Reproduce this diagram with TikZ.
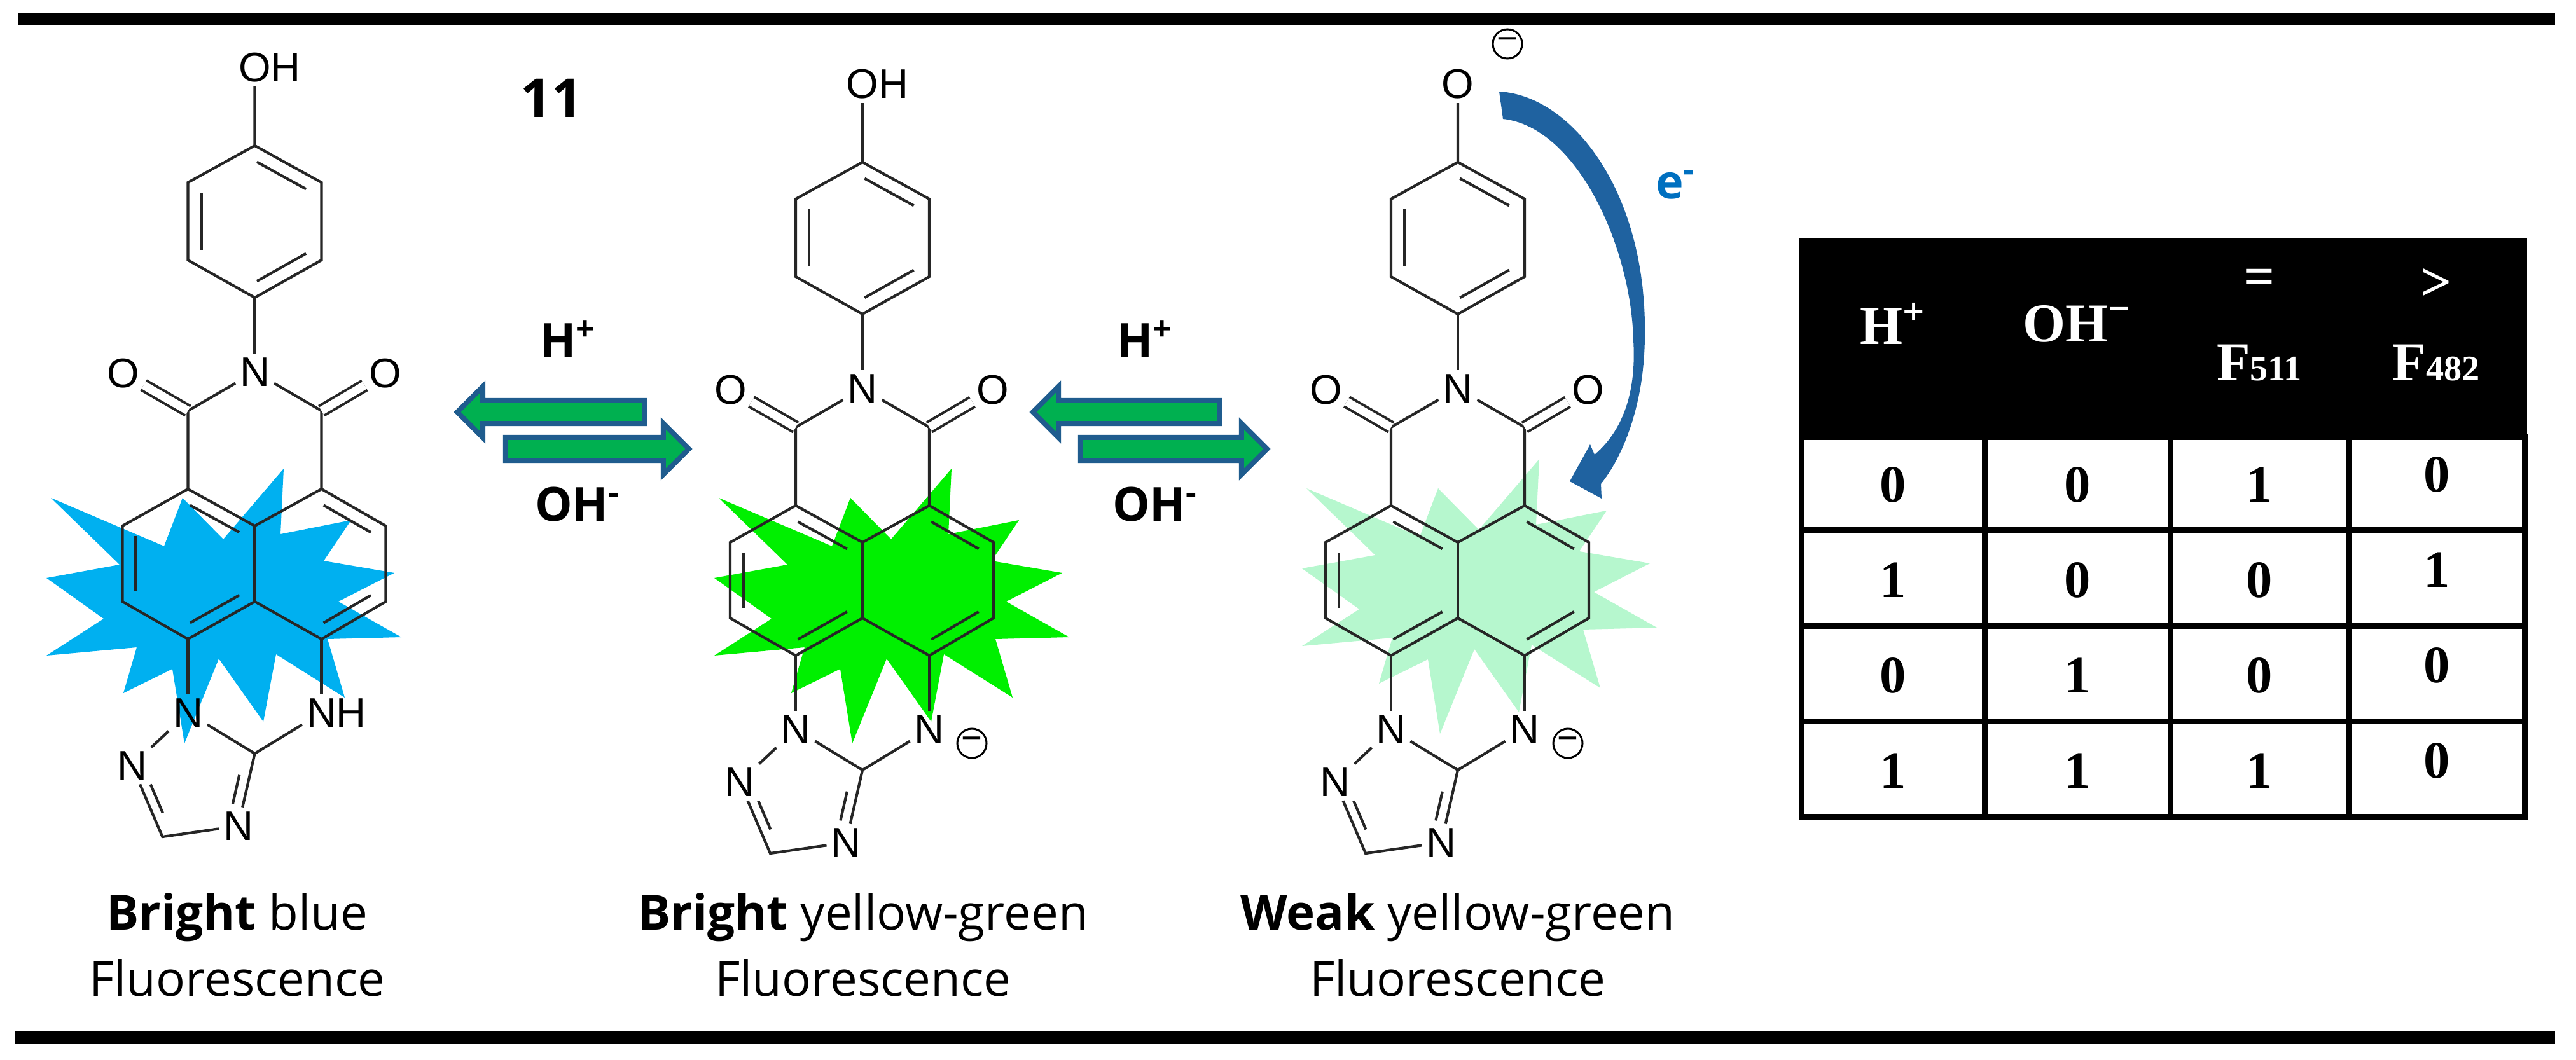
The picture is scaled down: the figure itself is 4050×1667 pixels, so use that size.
\documentclass[tikz,border=0pt]{standalone}
\usepackage{fontspec}
\setmainfont{Open Sans}
\newfontfamily\atomfont{Liberation Sans}
\newfontfamily\tablefont{Liberation Serif}
\usepackage{xcolor}
\usepackage{tikz}
\usetikzlibrary{arrows.meta,positioning,calc,shapes.arrows}

\definecolor{burstblue}{HTML}{00B0F0}
\definecolor{burstgreen}{HTML}{00F000}
\definecolor{burstpale}{HTML}{B6F7CE}
\definecolor{arrowgreen}{HTML}{00B050}
\definecolor{arrowblue}{HTML}{1F5C8E}
\definecolor{curveblue}{HTML}{1F62A0}
\definecolor{electronblue}{HTML}{0070C0}

\newcommand{\inbond}[4][.04]{\draw[bond] ($(#2)!#1!(#3)!.2!(#4)$) -- ($(#3)!#1!(#2)!.2!(#4)$);}

\tikzset{
  atom/.style={inner sep=0.07cm,outer sep=0pt,font=\atomfont\fontsize{18.5}{18.5}\selectfont},
  bond/.style={line width=0.042cm,color=black!85},
  dblbond/.style={bond,double=white,double distance=0.13cm,line width=0.04cm},
  charge/.style={circle,draw,line width=0.03cm,inner sep=0pt,minimum size=0.46cm,font=\atomfont\fontsize{16}{16}\selectfont},
  caption/.style={align=center,font=\fontsize{21.7}{29.5}\selectfont},
  reagent/.style={font=\bfseries\fontsize{21}{21}\selectfont},
  eqarrow/.style={single arrow,draw=arrowblue,fill=arrowgreen,line width=0.08cm,inner sep=0.14cm,outer sep=0pt,
    single arrow head extend=0.22cm,minimum width=0.8cm,anchor=tip},
  cell/.style={font=\tablefont\bfseries\fontsize{23.5}{23.5}\selectfont},
  headcell/.style={font=\tablefont\bfseries\fontsize{24.5}{24.5}\selectfont,text=white},
  gridline/.style={line width=0.09cm},
  pics/burst/.style={code={
    \fill[#1] (80,783) -- (258,859) -- (287,783) -- (351,848) -- (446,737) -- (441,840) -- (552,818) -- (509,882)
      -- (620,901) -- (532,946) -- (631,1002) -- (515,1005) -- (542,1097) -- (434,1029) -- (414,1135) -- (344,1036)
      -- (290,1169) -- (271,1052) -- (194,1090) -- (215,1018) -- (73,1031) -- (163,973) -- (73,909) -- (188,888) -- cycle;
  }},
  pics/molecule/.style 2 args={code={
    \node[atom] (-o) at (0,106) {#1};
    \coordinate (-p1) at (0,229);
    \coordinate (-p2) at (105,287);
    \coordinate (-p3) at (105,409);
    \coordinate (-p4) at (0,468);
    \coordinate (-p5) at (-105,409);
    \coordinate (-p6) at (-105,287);
    \coordinate (-pc) at (0,348);
    \node[atom] (-n) at (0,585) {N};
    \node[atom] (-ol) at (-207,587) {O};
    \node[atom] (-or) at (205,587) {O};
    \coordinate (-cl) at (-105,646);
    \coordinate (-cr) at (105,646);
    \coordinate (-a1) at (-105,769);
    \coordinate (-a2) at (105,769);
    \coordinate (-c1) at (0,827);
    \coordinate (-c2) at (0,946);
    \coordinate (-l1) at (-208,827);
    \coordinate (-l2) at (-208,946);
    \coordinate (-r1) at (206,827);
    \coordinate (-r2) at (206,946);
    \coordinate (-b1) at (-105,1005);
    \coordinate (-b2) at (105,1005);
    \coordinate (-lc) at (-105,887);
    \coordinate (-rc) at (105,887);
    \node[atom] (-n1) at (-105,1121) {N};
    \node[atom] (-nh) at (105,1121) {#2};
    \coordinate (-t) at (0,1185);
    \node[atom] (-n3) at (-26,1299) {N};
    \coordinate (-ch) at (-145,1316);
    \node[atom] (-n2) at (-193,1204) {N};
    \coordinate (-tc) at (-95,1240);
    \draw[bond] (-o) -- (-p1) -- (-p2) -- (-p3) -- (-p4) -- (-p5) -- (-p6) -- (-p1);
    \draw[bond] (-p4) -- (-n);
    \draw[bond] (-n) -- (-cl) -- (-a1);
    \draw[bond] (-n) -- (-cr) -- (-a2);
    \draw[dblbond] (-cl) -- (-ol);
    \draw[dblbond] (-cr) -- (-or);
    \draw[bond] (-a1) -- (-c1) -- (-a2) -- (-r1) -- (-r2) -- (-b2) -- (-c2) -- (-b1) -- (-l2) -- (-l1) -- (-a1);
    \draw[bond] (-c1) -- (-c2);
    \draw[bond] (-b1) -- (-n1);
    \draw[bond] (-b2) -- (-nh);
    \draw[bond] (-n1) -- (-t) -- (-nh);
    \draw[bond] (-t) -- (-n3);
    \draw[bond] (-n3) -- (-ch) -- (-n2) -- (-n1);
    \inbond{-p1}{-p2}{-pc}
    \inbond{-p3}{-p4}{-pc}
    \inbond{-p5}{-p6}{-pc}
    \inbond{-a1}{-c1}{-lc}
    \inbond{-l1}{-l2}{-lc}
    \inbond{-b1}{-c2}{-lc}
    \inbond{-a2}{-r1}{-rc}
    \inbond{-r2}{-b2}{-rc}
    \inbond[.25]{-n2}{-ch}{-tc}
    \inbond[.25]{-t}{-n3}{-tc}
  }}
}

\begin{document}
\begin{tikzpicture}[x=0.01cm,y=-0.01cm]
\useasboundingbox (0,0) rectangle (4050,1667);
\fill (29,21) rectangle (4017,40);
\fill (24,1622) rectangle (4017,1642);

\pic (b1) at (0,0) {burst=burstblue};
\pic (b2) at (1050,0) {burst=burstgreen};
\pic (b3) at (1974,-15) {burst=burstpale};

\pic (m1) at (400.5,0) {molecule={O\rlap{H}}{N\rlap{H}}};
\pic (m2) at (1356,26) {molecule={O\rlap{H}}{N}};
\pic (m3) at (2292,26) {molecule={O}{N}};

\node[charge] (q2) at (1528,1169) {−};
\node[charge] (q3) at (2465,1169) {−};
\node[charge] (q4) at (2370,69) {−};

\node[font=\bfseries\fontsize{24}{24}\selectfont] (num) at (867,154) {11};
\node[reagent] (h1) at (893,533) {H\textsuperscript{+}};
\node[reagent] (oh1) at (908,793) {OH\textsuperscript{-}};
\node[reagent] (h2) at (1800,533) {H\textsuperscript{+}};
\node[reagent] (oh2) at (1816,793) {OH\textsuperscript{-}};

\node[eqarrow,shape border rotate=180,minimum height=2.94cm] (a1) at (719,648) {};
\node[eqarrow,minimum height=2.88cm] (a2) at (1083,706) {};
\node[eqarrow,shape border rotate=180,minimum height=2.93cm] (a3) at (1624,648) {};
\node[eqarrow,minimum height=2.93cm] (a4) at (1992,706) {};

\fill[curveblue] (2357,144) .. controls (2470,150) and (2590,300) .. (2586,530)
  .. controls (2585,640) and (2550,720) .. (2517,761) -- (2518,784) -- (2468,757) -- (2500,699) -- (2507,715)
  .. controls (2560,670) and (2572,600) .. (2568,536) .. controls (2565,390) and (2480,200) .. (2363,187) -- cycle;
\node[reagent,text=electronblue] (el) at (2634,291) {e\textsuperscript{-}};

\node[caption] (c1) at (373,1486) {\textbf{Bright} blue\\Fluorescence};
\node[caption] (c2) at (1357,1486) {\textbf{Bright} yellow-green\\Fluorescence};
\node[caption] (c3) at (2292,1486) {\textbf{Weak} yellow-green\\Fluorescence};

\fill (2828,374) rectangle (3973,687);
\draw[gridline] (2832,687) rectangle (3969,1284);
\draw[gridline] (3120,687) -- (3120,1284);
\draw[gridline] (3412,687) -- (3412,1284);
\draw[gridline] (3693,687) -- (3693,1284);
\draw[gridline] (2832,834) -- (3969,834);
\draw[gridline] (2832,984) -- (3969,984);
\draw[gridline] (2832,1134) -- (3969,1134);

\node[headcell] (t1) at (2976,509) {H\textsuperscript{+}};
\node[headcell] (t2) at (3266,509) {OH\textsuperscript{−}};
\node[headcell] (t3) at (3552,443) {=};
\node[headcell] (t4) at (3830,447) {>};
\node[headcell] (t5) at (3552,571) {F{\fontsize{16}{16}\selectfont 511}};
\node[headcell] (t6) at (3830,571) {F{\fontsize{16}{16}\selectfont 482}};

\node[cell] (r11) at (2976,762) {0};
\node[cell] (r12) at (3266,762) {0};
\node[cell] (r13) at (3552,762) {1};
\node[cell] (r14) at (3831,746) {0};
\node[cell] (r21) at (2976,912) {1};
\node[cell] (r22) at (3266,912) {0};
\node[cell] (r23) at (3552,912) {0};
\node[cell] (r24) at (3831,896) {1};
\node[cell] (r31) at (2976,1062) {0};
\node[cell] (r32) at (3266,1062) {1};
\node[cell] (r33) at (3552,1062) {0};
\node[cell] (r34) at (3831,1046) {0};
\node[cell] (r41) at (2976,1212) {1};
\node[cell] (r42) at (3266,1212) {1};
\node[cell] (r43) at (3552,1212) {1};
\node[cell] (r44) at (3831,1196) {0};
\end{tikzpicture}
\end{document}
